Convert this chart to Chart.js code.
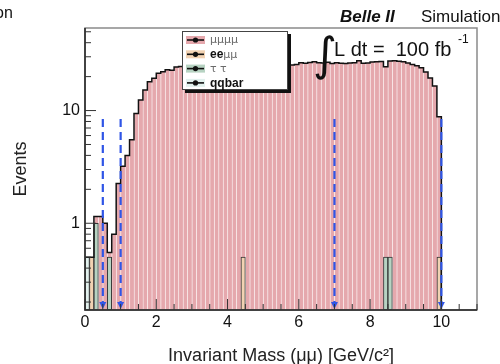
<!DOCTYPE html>
<html>
<head>
<meta charset="utf-8">
<script src="https://cdn.jsdelivr.net/npm/chart.js@4.4.1/dist/chart.umd.min.js"></script>
<style>
  html, body { margin: 0; padding: 0; background: #fff; }
  canvas { display: block; }
</style>
</head>
<body>
<canvas id="massChart" width="500" height="364"></canvas>
<script>
// histogram binning (GeV)
const binStart = 0;
const binWidth = 0.125;

// events per bin, one array per MC sample
const mumumumu = [
  0, 0, 0.15, 1.15, 1.0, 0.05, 0.8, 2.25, 3.2, 4.0, 5.5,
  9.4, 12.4, 15.2, 18.0, 19.3, 21.4, 22.1, 23.0, 22.8, 24.3, 24.6,
  25.2, 25.8, 26.1, 25.5, 26.4, 26.0, 26.8, 26.2, 25.9, 26.6, 27.0,
  26.3, 26.5, 25.6, 26.9, 26.2, 26.6, 27.1, 26.0, 26.4, 26.8, 25.9,
  26.3, 25.7, 25.4, 25.6, 26.5, 26.3, 26.7, 27.1, 26.6, 26.4, 26.8,
  26.2, 26.5, 26.3, 26.1, 26.4, 26.6, 27.6, 26.3, 26.4, 26.9, 27.1,
  27.2, 24.0, 27.0, 27.6, 27.4, 27.1, 26.4, 25.6, 25.0, 24.0, 22.0,
  19.4, 16.5, 8.3, 0, 0, 0, 0, 0, 0, 0, 0
];
const eemumu = [
  0, 0.5, 0, 0, 0, 0, 0, 0, 0, 0, 0,
  0, 0, 0, 0, 0, 0, 0, 0, 0, 0, 0,
  0, 0, 0, 0, 0, 0, 0, 0, 0, 0, 0,
  0, 0, 0.5, 0, 0, 0, 0, 0, 0, 0, 0,
  0, 0, 0, 0, 0, 0, 0, 0, 0, 0, 0,
  0, 0, 0, 0, 0, 0, 0, 0, 0, 0, 0,
  0, 0, 0, 0, 0, 0, 0, 0, 0, 0, 0,
  0, 0, 0.5, 0, 0, 0, 0, 0, 0, 0, 0
];
const tautau = [
  0, 0, 1.0, 0, 0, 0.5, 0, 0, 0, 0, 0,
  0, 0, 0, 0, 0, 0, 0, 0, 0, 0, 0,
  0, 0, 0, 0, 0, 0, 0, 0, 0, 0, 0,
  0, 0, 0, 0, 0, 0, 0, 0, 0, 0, 0,
  0, 0, 0, 0, 0, 0, 0, 0, 0, 0, 0,
  0, 0, 0, 0, 0, 0, 0, 0, 0, 0, 0,
  0, 0.5, 0.5, 0, 0, 0, 0, 0, 0, 0, 0,
  0, 0, 0, 0, 0, 0, 0, 0, 0, 0, 0
];
const qqbar = [
  0.5, 0, 0, 0, 0, 0, 0, 0, 0, 0, 0,
  0, 0, 0, 0, 0, 0, 0, 0, 0, 0, 0,
  0, 0, 0, 0, 0, 0, 0, 0, 0, 0, 0,
  0, 0, 0, 0, 0, 0, 0, 0, 0, 0, 0,
  0, 0, 0, 0, 0, 0, 0, 0, 0, 0, 0,
  0, 0, 0, 0, 0, 0, 0, 0, 0, 0, 0,
  0, 0, 0, 0, 0, 0, 0, 0, 0, 0, 0,
  0, 0, 0, 0, 0, 0, 0, 0, 0, 0, 0
];

const seriesLabels = ['μμμμ', 'eeμμ', 'τ τ', 'qqbar'];
const seriesColors = ['#e5a8ad', '#f1d2b2', '#b7d3c2', '#e2f1ee'];

// selection cuts (GeV) and the height the arrows start from
const cutPositions = [0.5, 1.0, 7.0, 10.0];
const cutTop = 8.4;

// axes
const xTickLabels = [0, 2, 4, 6, 8, 10];
const yTickValues = [0.2, 0.3, 0.4, 0.5, 0.6, 0.7, 0.8, 0.9, 1, 2, 3, 4, 5, 6, 7, 8, 9, 10, 20, 30, 40, 50];
const yTickLabels = [1, 10];

const FONT = '"Liberation Sans", Arial, Helvetica, sans-serif';
const FLOOR = 0.01;

const binCenters = mumumumu.map((_, i) => binStart + (i + 0.5) * binWidth);
const toPoints = arr => arr.map((v, i) => ({ x: binCenters[i], y: v > 0 ? v : null }));

// outline of the stacked sum
const totals = mumumumu.map((v, i) => v + eemumu[i] + tautau[i] + qqbar[i]);
const outline = [{ x: binStart, y: FLOOR }];
totals.forEach((t, i) => outline.push({ x: binStart + i * binWidth, y: t > 0 ? t : FLOOR }));
outline.push({ x: binStart + totals.length * binWidth, y: FLOOR });

const componentBar = (label, data, color) => ({
  type: 'bar', label, data: toPoints(data), backgroundColor: color,
  borderColor: '#333', borderWidth: 1, borderSkipped: false,
  barPercentage: 1, categoryPercentage: 1
});

const overlay = {
  id: 'overlay',
  afterDraw(chart) {
    const ctx = chart.ctx;
    const a = chart.chartArea;
    const xs = chart.scales.x, ys = chart.scales.y;
    ctx.save();

    // cut lines with arrows
    ctx.strokeStyle = '#2f55e6';
    ctx.fillStyle = '#2f55e6';
    ctx.lineWidth = 2.2;
    cutPositions.forEach(c => {
      const px = xs.getPixelForValue(c);
      const top = ys.getPixelForValue(cutTop);
      ctx.setLineDash([8, 5]);
      ctx.beginPath();
      ctx.moveTo(px, top);
      ctx.lineTo(px, a.bottom - 6);
      ctx.stroke();
      ctx.setLineDash([]);
      ctx.beginPath();
      ctx.moveTo(px - 3.5, a.bottom - 8);
      ctx.lineTo(px + 3.5, a.bottom - 8);
      ctx.lineTo(px, a.bottom - 1);
      ctx.closePath();
      ctx.fill();
    });

    // frame
    ctx.strokeStyle = '#8a8a8a';
    ctx.lineWidth = 1.5;
    ctx.strokeRect(a.left, a.top, a.right - a.left, a.bottom - a.top);
    ctx.strokeStyle = '#222';
    ctx.beginPath();
    ctx.moveTo(a.left, a.top);
    ctx.lineTo(a.left, a.bottom);
    ctx.lineTo(a.right, a.bottom);
    ctx.stroke();

    // inward tick marks
    ctx.lineWidth = 1;
    ctx.strokeStyle = '#333';
    ctx.beginPath();
    xs.ticks.forEach(t => {
      const px = xs.getPixelForValue(t.value);
      const len = xTickLabels.includes(t.value) ? 11 : 6;
      ctx.moveTo(px, a.bottom);
      ctx.lineTo(px, a.bottom - len);
    });
    ys.ticks.forEach(t => {
      const py = ys.getPixelForValue(t.value);
      const len = yTickLabels.includes(t.value) ? 11 : 6;
      ctx.moveTo(a.left, py);
      ctx.lineTo(a.left + len, py);
    });
    ctx.stroke();

    // legend box
    const lx = a.left + 97, ly = a.top + 3, lw = 106, lh = 59;
    ctx.fillStyle = '#111';
    ctx.fillRect(lx + 3, ly + 3, lw, lh);
    ctx.fillStyle = '#fff';
    ctx.fillRect(lx, ly, lw, lh);
    ctx.strokeStyle = '#444';
    ctx.lineWidth = 1;
    ctx.strokeRect(lx + 0.5, ly + 0.5, lw - 1, lh - 1);
    seriesLabels.forEach((label, i) => {
      const cy = ly + 9 + i * 14.3;
      ctx.fillStyle = seriesColors[i];
      ctx.fillRect(lx + 4, cy - 4, 19, 8);
      ctx.strokeStyle = '#111';
      ctx.lineWidth = 1.6;
      ctx.beginPath();
      ctx.moveTo(lx + 5, cy);
      ctx.lineTo(lx + 22, cy);
      ctx.stroke();
      ctx.fillStyle = '#111';
      ctx.beginPath();
      ctx.arc(lx + 13.5, cy, 2.6, 0, Math.PI * 2);
      ctx.fill();
      let tx = lx + 28;
      ctx.textBaseline = 'middle';
      for (const ch of label) {
        const greek = ch.charCodeAt(0) >= 0x370;
        ctx.font = greek ? '11px "DejaVu Sans", sans-serif' : 'bold 12px ' + FONT;
        ctx.fillStyle = greek ? '#6a6a6a' : '#111';
        ctx.fillText(ch, tx, cy + 0.5);
        tx += ctx.measureText(ch).width;
      }
    });

    // labels
    ctx.textBaseline = 'alphabetic';
    ctx.fillStyle = '#111';
    ctx.font = '16px ' + FONT;
    ctx.fillText('on', -5, 18);
    ctx.font = 'italic bold 17px ' + FONT;
    ctx.fillText('Belle II', 340, 22);
    ctx.font = '17px ' + FONT;
    ctx.fillText('Simulation', 421, 22);

    ctx.font = '46px "DejaVu Sans", sans-serif';
    ctx.fillText('∫', 313, 70);
    ctx.font = '20px ' + FONT;
    ctx.fillText('L dt =  100 fb', 334, 56);
    ctx.font = '12px ' + FONT;
    ctx.fillText('-1', 458, 43);
    ctx.restore();
  }
};

new Chart(document.getElementById('massChart'), {
  data: {
    datasets: [
      componentBar('qqbar', qqbar, seriesColors[3]),
      componentBar('τ τ', tautau, seriesColors[2]),
      componentBar('eeμμ', eemumu, seriesColors[1]),
      {
        type: 'bar', label: 'μμμμ', data: toPoints(mumumumu),
        backgroundColor: seriesColors[0],
        borderColor: 'rgba(255,255,255,0.3)',
        borderWidth: { left: 1, right: 0, top: 0, bottom: 0 },
        borderSkipped: false, inflateAmount: 0.5,
        barPercentage: 1, categoryPercentage: 1
      },
      {
        type: 'line', label: 'sum', data: outline, stack: 'outline', order: -1,
        borderColor: '#111', borderWidth: 1.5, stepped: true,
        pointRadius: 0, fill: false
      }
    ]
  },
  options: {
    responsive: false,
    animation: false,
    layout: { padding: { top: 28, right: 23, left: 0, bottom: 0 } },
    plugins: { legend: { display: false }, tooltip: { enabled: false } },
    scales: {
      x: {
        type: 'linear', min: 0, max: 11, offset: false, stacked: true,
        grid: { display: false, drawTicks: false }, border: { display: false },
        ticks: {
          stepSize: 0.5, autoSkip: false, maxRotation: 0, padding: 3,
          color: '#111', font: { size: 16, family: FONT },
          callback: v => xTickLabels.includes(v) ? String(v) : ''
        },
        title: {
          display: true, text: 'Invariant Mass (μμ) [GeV/c²]', color: '#222',
          font: { size: 18, family: FONT }, padding: { top: 0, bottom: -3 }
        },
        afterFit: s => { s.height = 54; }
      },
      y: {
        type: 'logarithmic', min: 0.17, max: 54, stacked: true,
        grid: { display: false, drawTicks: false }, border: { display: false },
        afterBuildTicks: s => { s.ticks = yTickValues.map(v => ({ value: v })); },
        ticks: {
          autoSkip: false, padding: 5, color: '#111', font: { size: 16, family: FONT },
          callback: v => yTickLabels.includes(v) ? String(v) : ''
        },
        title: {
          display: true, text: 'Events', color: '#222',
          font: { size: 18, family: FONT }, padding: { top: 10, bottom: 0 }
        },
        afterFit: s => { s.width = 85; }
      }
    }
  },
  plugins: [overlay]
});
</script>
</body>
</html>
